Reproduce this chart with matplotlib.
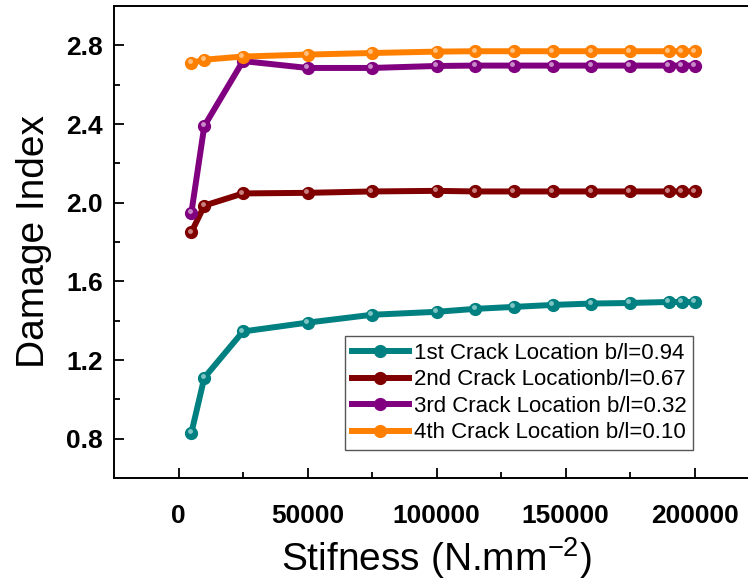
import numpy as np
import matplotlib
matplotlib.use("Agg")
import matplotlib.pyplot as plt
import matplotlib.transforms as mtransforms

plt.rcParams['font.family'] = ['Liberation Sans', 'DejaVu Sans']

# stiffness values (N.mm^-2)
stiffness = [5000, 10000, 25000, 50000, 75000, 100000, 115000, 130000,
             145000, 160000, 175000, 190000, 195000, 200000]

crack1 = [0.83, 1.11, 1.345, 1.39, 1.43, 1.445, 1.46, 1.47, 1.48, 1.487, 1.49, 1.495, 1.495, 1.495]
crack2 = [1.85, 1.985, 2.047, 2.05, 2.057, 2.06, 2.057, 2.057, 2.057, 2.057, 2.057, 2.057, 2.057, 2.057]
crack3 = [1.95, 2.39, 2.72, 2.685, 2.685, 2.695, 2.697, 2.697, 2.697, 2.697, 2.697, 2.697, 2.697, 2.697]
crack4 = [2.71, 2.727, 2.743, 2.753, 2.761, 2.768, 2.77, 2.77, 2.77, 2.77, 2.77, 2.77, 2.77, 2.77]

labels = ['1st Crack Location b/l=0.94',
          '2nd Crack Locationb/l=0.67',
          '3rd Crack Location b/l=0.32',
          '4th Crack Location b/l=0.10']
colors = ['#008080', '#800000', '#800080', '#FF8000']
highlights = ['#7fc4c4', '#c98080', '#c98ac9', '#ffc080']

fig = plt.figure(figsize=(7.48, 5.84), dpi=100)
ax = fig.add_axes([114/748, 106/584, 645/748, 472/584])

# small glossy spot on each marker
shift = mtransforms.ScaledTranslation(-1.2/72, 1.2/72, fig.dpi_scale_trans)

for ys, c, hc, lab in zip([crack1, crack2, crack3, crack4], colors, highlights, labels):
    ax.plot(stiffness, ys, color=c, lw=4.3, marker='o', ms=8.5, mec=c, label=lab)
    ax.plot(stiffness, ys, ls='none', marker='o', ms=2.5, color=hc,
            transform=ax.transData + shift)

ax.set_xlim(-25000, 225000)
ax.set_ylim(0.6, 3.0)
ax.set_xticks([0, 50000, 100000, 150000, 200000])
ax.set_xticks(np.arange(25000, 225000, 50000), minor=True)
ax.set_yticks([0.8, 1.2, 1.6, 2.0, 2.4, 2.8])
ax.set_yticks(np.arange(1.0, 3.0, 0.4), minor=True)
ax.set_yticklabels(['0.8', '1.2', '1.6', '2.0', '2.4', '2.8'])

ax.tick_params(which='both', direction='in', width=1.3, labelsize=19)
ax.tick_params(which='major', length=7)
ax.tick_params(which='minor', length=4)
ax.tick_params(axis='x', pad=19)
ax.tick_params(axis='y', pad=8)
for t in ax.get_xticklabels() + ax.get_yticklabels():
    t.set_fontweight('bold')

for sp in ['left', 'bottom', 'top']:
    ax.spines[sp].set_linewidth(1.4)
ax.spines['right'].set_visible(False)

ax.set_xlabel('Stifness (N.mm$^{\\mathregular{-2}}$)', fontsize=28, labelpad=5)
ax.set_ylabel('Damage Index', fontsize=28, labelpad=10)

leg = ax.legend(loc='lower right', bbox_to_anchor=(0.898, 0.059), borderaxespad=0,
                fontsize=16, numpoints=1, handlelength=2.6, handletextpad=0.2,
                labelspacing=0.25, borderpad=0.3, fancybox=False, framealpha=1)
leg.get_frame().set_edgecolor('#555555')
leg.get_frame().set_linewidth(1.0)

fig.savefig('out.png', dpi=100)
